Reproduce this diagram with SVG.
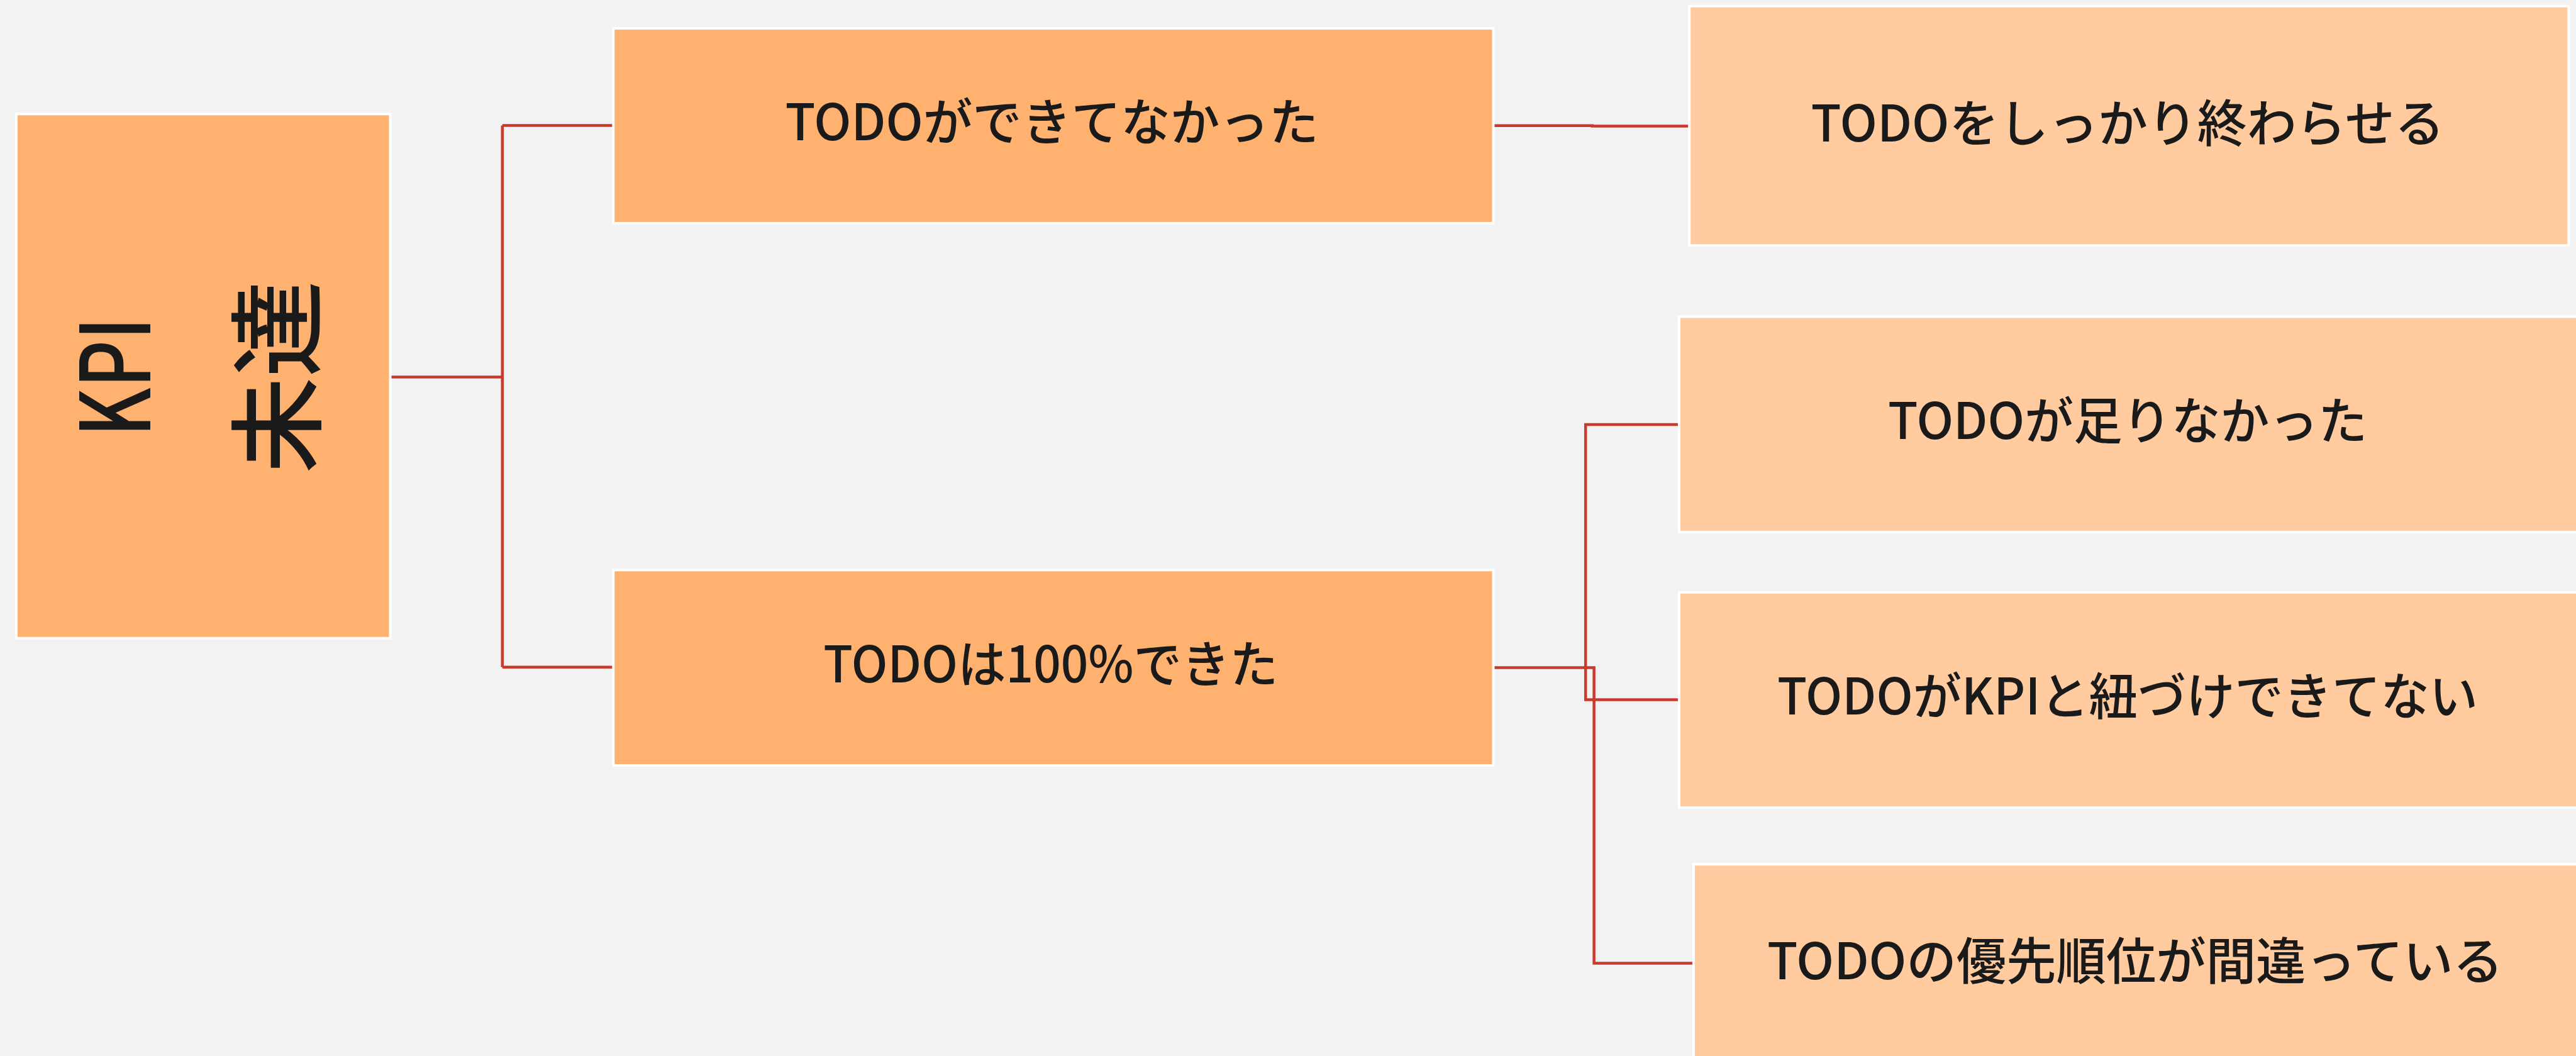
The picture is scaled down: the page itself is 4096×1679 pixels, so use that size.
<svg xmlns="http://www.w3.org/2000/svg" width="4096" height="1679" viewBox="0 0 4096 1679">
<defs>
<style>
.bg{fill:#F2F2F2}
.n1{fill:#FFB16F;stroke:#FFFFFF;stroke-width:4}
.n2{fill:#FFCB9F;stroke:#FFFFFF;stroke-width:4}
.t{font-family:"Noto Sans CJK JP","Noto Sans",sans-serif;fill:#1A1A1A;text-anchor:middle;font-weight:500}
.tb{font-size:80px}
.tk{font-size:153px}
.c{fill:none;stroke:#C9392C;stroke-width:4.5}
</style>
</defs>
<rect class="bg" x="0" y="0" width="4096" height="1679"/>
<g id="connectors">
<path class="c" d="M620.5,599.4 H798.8"/>
<path class="c" d="M798.8,199.5 V1060.7"/>
<path class="c" d="M798.8,199.5 H975.3"/>
<path class="c" d="M798.8,1060.7 H975.3"/>
<path class="c" d="M2374.5,199.7 H2531.8 V200.6 H2686.2"/>
<path class="c" d="M2374.5,1061.6 H2534.6 V1531.5 H2692.9"/>
<path class="c" d="M2669.9,675.1 H2521.2 V1112.4 H2669.9"/>
</g>
<g id="node-kpi">
<rect class="n1" x="25.9" y="181.3" width="594.6" height="833.4"/>
<text class="t tk" transform="translate(238.8,599.4) rotate(-90)" x="0" y="0" textLength="190" lengthAdjust="spacingAndGlyphs">KPI</text>
<text class="t tk" transform="translate(497.7,599.4) rotate(-90)" x="0" y="0">未達</text>
</g>
<g id="node-a">
<rect class="n1" x="975.3" y="45.1" width="1399.2" height="309.8"/>
<text class="t tb" x="1672.5" y="223.4" textLength="848" lengthAdjust="spacingAndGlyphs">TODOができてなかった</text>
</g>
<g id="node-b">
<rect class="n1" x="975.3" y="906.3" width="1399.2" height="310.7"/>
<text class="t tb" x="1670.7" y="1085.3" textLength="723" lengthAdjust="spacingAndGlyphs">TODOは100%できた</text>
</g>
<g id="node-c">
<rect class="n2" x="2686.2" y="9.6" width="1398.2" height="380.7"/>
<text class="t tb" x="3383" y="225.4" textLength="1007" lengthAdjust="spacingAndGlyphs">TODOをしっかり終わらせる</text>
</g>
<g id="node-d">
<rect class="n2" x="2669.9" y="503.5" width="1430" height="342.4"/>
<text class="t tb" x="3383" y="698" textLength="762" lengthAdjust="spacingAndGlyphs">TODOが足りなかった</text>
</g>
<g id="node-e">
<rect class="n2" x="2669.9" y="941.7" width="1430" height="342.4"/>
<text class="t tb" x="3383" y="1136.4" textLength="1114" lengthAdjust="spacingAndGlyphs">TODOがKPIと紐づけできてない</text>
</g>
<g id="node-f">
<rect class="n2" x="2692.9" y="1374.2" width="1410" height="342"/>
<text class="t tb" x="3395" y="1556.8" textLength="1170" lengthAdjust="spacingAndGlyphs">TODOの優先順位が間違っている</text>
</g>
</svg>
